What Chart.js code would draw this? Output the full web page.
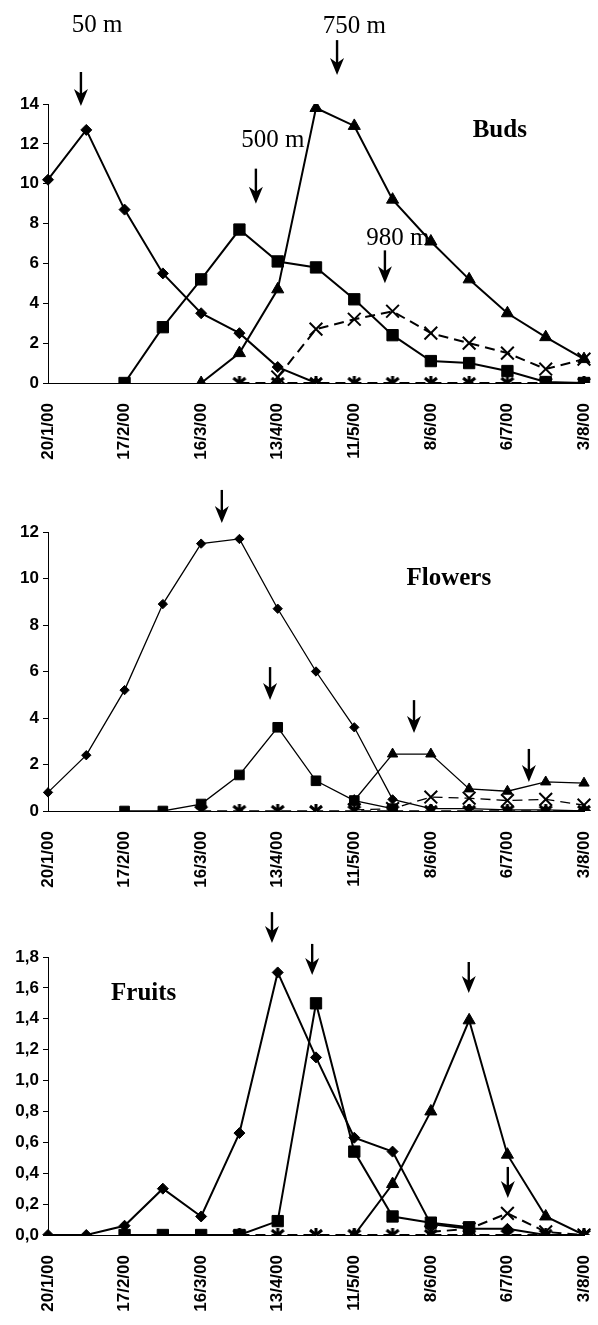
<!DOCTYPE html>
<html>
<head>
<meta charset="utf-8">
<script src="https://cdn.jsdelivr.net/npm/chart.js@4.4.1/dist/chart.umd.min.js"></script>
<style>
    html, body { margin: 0; padding: 0; background: #fff; }
    #pagina { position: relative; width: 598px; height: 1325px; background: #fff; }
    canvas { position: absolute; left: 0; }
</style>
</head>
<body>
<div id="pagina">
    <canvas id="graficoBotoes" width="598" height="470" style="top:0px"></canvas>
    <canvas id="graficoFlores" width="598" height="430" style="top:470px"></canvas>
    <canvas id="graficoFrutos" width="598" height="425" style="top:900px"></canvas>
</div>
<script>
// Datas de amostragem (a cada 14 dias)
const datas = ['20/1/00', '3/2/00', '17/2/00', '2/3/00', '16/3/00', '30/3/00', '13/4/00', '27/4/00',
    '11/5/00', '25/5/00', '8/6/00', '22/6/00', '6/7/00', '20/7/00', '3/8/00'];
// Rótulos mostrados no eixo X
const rotulosX = ['20/1/00', '17/2/00', '16/3/00', '13/4/00', '11/5/00', '8/6/00', '6/7/00', '3/8/00'];

// Botões (Buds)
const botoes50 = [10.2, 12.7, 8.7, 5.5, 3.5, 2.5, 0.8, 0, null, null, null, null, null, null, null];
const botoes500 = [null, null, 0, 2.8, 5.2, 7.7, 6.1, 5.8, 4.2, 2.4, 1.1, 1.0, 0.6, 0.05, 0];
const botoes750 = [null, null, null, null, 0, 1.5, 4.7, 13.8, 12.9, 9.2, 7.1, 5.2, 3.5, 2.3, 1.2];
const botoes980 = [null, null, null, null, null, null, 0.3, 2.7, 3.2, 3.6, 2.5, 2.0, 1.5, 0.7, 1.2];
const botoesSerie5 = [null, null, null, null, null, 0, 0, 0, 0, 0, 0, 0, 0, 0, 0];
const eixoBotoes = [0, 2, 4, 6, 8, 10, 12, 14];

// Flores (Flowers)
const flores50 = [0.8, 2.4, 5.2, 8.9, 11.5, 11.7, 8.7, 6.0, 3.6, 0.5, 0.1, 0.1, 0.05, 0.05, 0];
const flores500 = [null, null, 0, 0, 0.3, 1.55, 3.6, 1.3, 0.45, 0.1, null, null, null, null, null];
const flores750 = [null, null, null, null, null, null, null, null, 0.45, 2.45, 2.45, 0.95, 0.85, 1.25, 1.2];
const flores980 = [null, null, null, null, null, null, null, null, 0.05, 0.1, 0.6, 0.55, 0.45, 0.5, 0.25];
const floresSerie5 = [null, null, null, null, 0, 0, 0, 0, 0, 0, 0, 0, 0, 0, 0];
const eixoFlores = [0, 2, 4, 6, 8, 10, 12];

// Frutos (Fruits)
const frutos50 = [0, 0, 0.06, 0.3, 0.12, 0.66, 1.7, 1.15, 0.63, 0.54, 0.07, 0.04, 0.04, 0, 0];
const frutos500 = [null, null, 0, 0, 0, 0, 0.09, 1.5, 0.54, 0.12, 0.08, 0.05, null, null, null];
const frutos750 = [null, null, null, null, null, null, null, null, 0, 0.33, 0.8, 1.39, 0.52, 0.12, 0];
const frutos980 = [null, null, null, null, null, null, null, null, null, null, 0.02, 0.04, 0.14, 0.02, 0];
const frutosSerie5 = [null, null, null, null, null, 0, 0, 0, 0, 0, 0, 0, 0, 0, 0];
const eixoFrutos = [0, 0.2, 0.4, 0.6, 0.8, 1.0, 1.2, 1.4, 1.6, 1.8];

const fonteEixo = { family: "'Liberation Sans', Arial, sans-serif", size: 17, weight: 'bold' };
const fonteTexto = "'Liberation Serif', 'Times New Roman', serif";

// Marcador asterisco (x com traço vertical)
function criarAsterisco() {
    const c = document.createElement('canvas');
    c.width = 16;
    c.height = 16;
    const ctx = c.getContext('2d');
    ctx.strokeStyle = '#000';
    ctx.lineWidth = 3;
    ctx.beginPath();
    ctx.moveTo(2, 3); ctx.lineTo(14, 13);
    ctx.moveTo(14, 3); ctx.lineTo(2, 13);
    ctx.moveTo(8, 1); ctx.lineTo(8, 15);
    ctx.stroke();
    return c;
}
const asterisco = criarAsterisco();

// Plugin para setas e textos
const marcasPlugin = {
    id: 'marcas',
    afterDatasetsDraw(chart, args, opts) {
        const ctx = chart.ctx;
        const sx = chart.scales.x;
        const sy = chart.scales.y;
        ctx.save();
        ctx.fillStyle = '#000';
        ctx.strokeStyle = '#000';
        (opts.setas || []).forEach(s => {
            const x = sx.getPixelForValue(s.i);
            const y = sy.getPixelForValue(s.v);
            ctx.lineWidth = 2.4;
            ctx.beginPath();
            ctx.moveTo(x, y - s.len);
            ctx.lineTo(x, y - 10);
            ctx.stroke();
            ctx.beginPath();
            ctx.moveTo(x, y);
            ctx.lineTo(x - 7, y - 17);
            ctx.lineTo(x, y - 12);
            ctx.lineTo(x + 7, y - 17);
            ctx.closePath();
            ctx.fill();
        });
        (opts.textos || []).forEach(t => {
            ctx.font = (t.negrito ? 'bold ' : '') + '25px ' + fonteTexto;
            ctx.textAlign = 'center';
            ctx.textBaseline = 'alphabetic';
            ctx.fillText(t.txt, sx.getPixelForValue(t.i), sy.getPixelForValue(t.v));
        });
        ctx.restore();
    }
};

function criarSeries(valores, espessura, escala) {
    const estilos = [
        { pointStyle: 'rectRot', pointRadius: 5.5 * escala },
        { pointStyle: 'rect', pointRadius: 8 * escala },
        { pointStyle: 'triangle', pointRadius: 7 * escala },
        { pointStyle: 'crossRot', pointRadius: 9, borderDash: [10, 6] },
        { pointStyle: asterisco, pointRadius: 8, borderDash: [10, 6] }
    ];
    return valores.map((v, k) => Object.assign({
        data: v,
        borderColor: '#000',
        backgroundColor: '#000',
        pointBackgroundColor: '#000',
        pointBorderColor: '#000',
        pointBorderWidth: k === 3 ? 2 : 1,
        borderWidth: espessura,
        tension: 0,
        fill: false
    }, estilos[k]));
}

function criarGrafico(id, valores, eixo, topo, base, espessura, escala, decimal, marcas) {
    const canvas = document.getElementById(id);
    const altura = canvas.height;
    const passo = eixo[1] - eixo[0];
    new Chart(canvas.getContext('2d'), {
        type: 'line',
        data: { labels: datas, datasets: criarSeries(valores, espessura, escala) },
        plugins: [marcasPlugin],
        options: {
            responsive: false,
            animation: false,
            events: [],
            layout: { padding: { top: topo, right: 14, bottom: 0, left: 0 } },
            plugins: {
                legend: { display: false },
                tooltip: { enabled: false },
                marcas: marcas
            },
            scales: {
                x: {
                    type: 'category',
                    offset: false,
                    grid: { display: false },
                    border: { display: true, color: '#000', width: 1 },
                    ticks: {
                        autoSkip: false,
                        minRotation: 90,
                        maxRotation: 90,
                        padding: 12,
                        color: '#000',
                        font: fonteEixo,
                        callback: function(val, i) {
                            return rotulosX.includes(datas[i]) ? datas[i] : '';
                        }
                    },
                    afterFit: function(s) {
                        s.height = altura - base;
                        s.paddingLeft = 0;
                        s.paddingRight = 0;
                    }
                },
                y: {
                    min: eixo[0],
                    max: eixo[eixo.length - 1],
                    grid: { drawOnChartArea: false, tickLength: 5, color: '#000', lineWidth: 1 },
                    border: { display: true, color: '#000', width: 1 },
                    ticks: {
                        stepSize: passo,
                        padding: 4,
                        color: '#000',
                        font: fonteEixo,
                        callback: function(val) {
                            return decimal ? val.toFixed(1).replace('.', ',') : String(Math.round(val));
                        }
                    },
                    afterFit: function(s) {
                        s.width = 48;
                    }
                }
            }
        }
    });
}

// Gráfico de botões
criarGrafico('graficoBotoes',
    [botoes50, botoes500, botoes750, botoes980, botoesSerie5],
    eixoBotoes, 104, 383, 2, 1, false, {
        setas: [
            { i: 0.86, v: 13.9, len: 34 },
            { i: 7.55, v: 15.45, len: 35 },
            { i: 5.43, v: 9.0, len: 35 },
            { i: 8.8, v: 5.0, len: 33 }
        ],
        textos: [
            { txt: '50 m', i: 1.28, v: 17.6 },
            { txt: '750 m', i: 8.0, v: 17.56 },
            { txt: '500 m', i: 5.87, v: 11.84 },
            { txt: '980 m', i: 9.14, v: 6.92 },
            { txt: 'Buds', i: 11.8, v: 12.34, negrito: true }
        ]
    });

// Gráfico de flores
criarGrafico('graficoFlores',
    [flores50, flores500, flores750, flores980, floresSerie5],
    eixoFlores, 62, 341, 1.3, 0.85, false, {
        setas: [
            { i: 4.54, v: 12.39, len: 33 },
            { i: 5.8, v: 4.77, len: 33 },
            { i: 9.56, v: 3.35, len: 33 },
            { i: 12.56, v: 1.25, len: 33 }
        ],
        textos: [
            { txt: 'Flowers', i: 10.47, v: 9.72, negrito: true }
        ]
    });

// Gráfico de frutos
criarGrafico('graficoFrutos',
    [frutos50, frutos500, frutos750, frutos980, frutosSerie5],
    eixoFrutos, 57, 335, 2, 1, true, {
        setas: [
            { i: 5.85, v: 1.89, len: 31 },
            { i: 6.9, v: 1.684, len: 31 },
            { i: 10.99, v: 1.567, len: 31 },
            { i: 12.01, v: 0.24, len: 31 }
        ],
        textos: [
            { txt: 'Fruits', i: 2.5, v: 1.522, negrito: true }
        ]
    });
</script>
</body>
</html>
